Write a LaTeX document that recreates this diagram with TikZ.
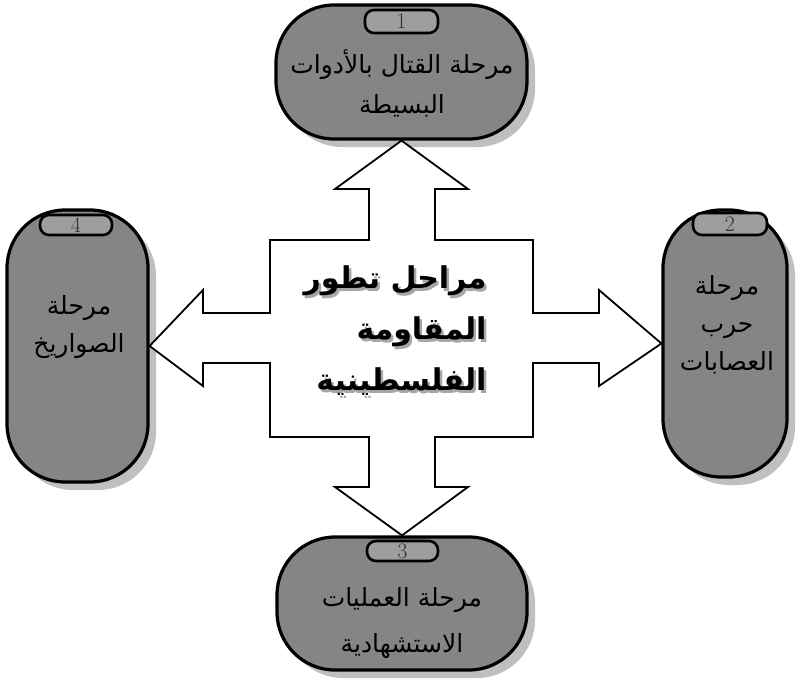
\documentclass[tikz,border=0pt]{standalone}
\usepackage{fontspec}
\usetikzlibrary{shadows}
\newfontfamily\arabicfont[Script=Arabic]{DejaVu Sans}
\TeXXeTstate=1
\newcommand{\artxt}[1]{\beginR #1\endR}
\begin{document}
\begin{tikzpicture}[x=1pt,y=-1pt,
  stage/.style={draw=black, line width=3.2pt, fill=black!48, rounded corners=58pt, inner sep=0pt,
    drop shadow={shadow xshift=8pt, shadow yshift=-8pt, fill=black!25, opacity=1}},
  pill/.style={draw=black, line width=2.6pt, fill=black!38, rounded corners=9pt, inner sep=0pt,
    font=\rmfamily\fontsize{22}{22}\selectfont, text=black!80},
  stagetext/.style={font=\arabicfont\fontsize{25}{38}\selectfont, align=center, text=black},
  centertext/.style={font=\arabicfont\bfseries\fontsize{30}{51}\selectfont, align=right, anchor=east},
  crossshape/.style={draw=black, line width=1.8pt, fill=white, line join=miter}
]
\useasboundingbox (0,0) rectangle (801,691);

% stage ovals
\node[stage, minimum width=251pt, minimum height=134pt] (T) at (401.5,72) {};
\node[stage, minimum width=124pt, minimum height=267pt] (R) at (725,343.5) {};
\node[stage, minimum width=250pt, minimum height=133pt] (B) at (402,603.5) {};
\node[stage, minimum width=141pt, minimum height=272pt] (L) at (77.5,346) {};

% number pills
\node[pill, minimum width=73pt, minimum height=23pt] (T1) at (401.5,21.5) {1};
\node[pill, minimum width=74pt, minimum height=22pt] (R2) at (730,224) {2};
\node[pill, minimum width=71pt, minimum height=20pt] (B3) at (402.5,551) {3};
\node[pill, minimum width=72pt, minimum height=20pt] (L4) at (76,225) {4};

% stage texts
\node[stagetext, font=\arabicfont\fontsize{25}{40}\selectfont] (Tt) at (402,83) {\artxt{مرحلة القتال بالأدوات}\\\artxt{البسيطة}};
\node[stagetext] (Rt) at (727,325) {\artxt{مرحلة}\\\artxt{حرب}\\\artxt{العصابات}};
\node[stagetext, font=\arabicfont\fontsize{25}{46}\selectfont] (Bt) at (402,623) {\artxt{مرحلة العمليات}\\\artxt{الاستشهادية}};
\node[stagetext] (Lt) at (79,327) {\artxt{مرحلة}\\\artxt{الصواريخ}};

% central cross with four arrows
\draw[crossshape]
  (T.south) -- (468,189) -- (435,189) -- (435,240) -- (533,240) -- (533,313)
  -- (599,313) -- (599,290) -- (R.west) -- (599,386) -- (599,363) -- (533,363)
  -- (533,437) -- (435,437) -- (435,487) -- (468,487) -- (B.north) -- (335,487)
  -- (369,487) -- (369,437) -- (270,437) -- (270,363) -- (203,363) -- (203,386)
  -- (L.east) -- (203,290) -- (203,313) -- (270,313) -- (270,240) -- (369,240)
  -- (369,189) -- (335,189) -- cycle;

% central title with its grey shadow
\node[centertext, text=black!35] (Cs) at (492.5,334) {\artxt{مراحل تطور}\\\artxt{المقاومة}\\\artxt{الفلسطينية}};
\node[centertext, text=black] (C) at (490,331) {\artxt{مراحل تطور}\\\artxt{المقاومة}\\\artxt{الفلسطينية}};
\end{tikzpicture}
\end{document}
